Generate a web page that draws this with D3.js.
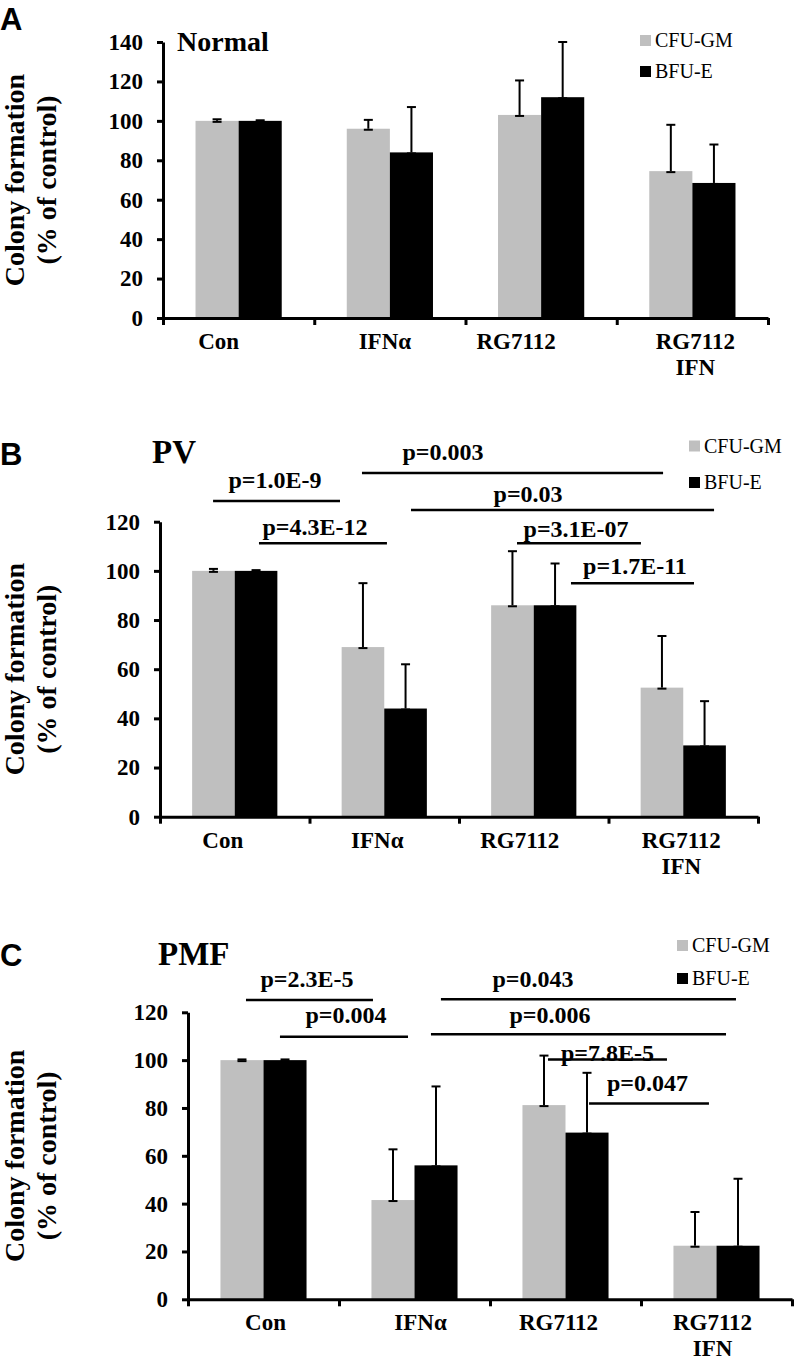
<!DOCTYPE html>
<html>
<head>
<meta charset="utf-8">
<script src="https://cdn.jsdelivr.net/npm/d3@7"></script>
<style>
body { margin: 0; background: #fff; }
</style>
</head>
<body>
<script>
var SERIF = "'Liberation Serif', 'Times New Roman', 'DejaVu Serif', serif";

// categories, series
var categories = [["Con"], ["IFN\u03b1"], ["RG7112"], ["RG7112", "IFN"]];
var series = ["CFU-GM", "BFU-E"];
var seriesColors = ["#bfbfbf", "#000000"];

// Normal (A)
var normalCfu = [100, 96, 103, 74.5];
var normalCfuErr = [0.8, 4.5, 17.5, 23.5];
var normalBfu = [100, 84, 112, 68.5];
var normalBfuErr = [0.3, 23, 28, 19.5];

// PV (B)
var pvCfu = [100, 69, 86, 52.5];
var pvCfuErr = [0.8, 26, 22, 21];
var pvBfu = [100, 44, 86, 29];
var pvBfuErr = [0.3, 18, 17, 18];

// PMF (C)
var pmfCfu = [100, 41.5, 81.2, 22.4];
var pmfCfuErr = [0.3, 21.2, 20.7, 14.1];
var pmfBfu = [100, 56, 69.7, 22.4];
var pmfBfuErr = [0.3, 33, 25, 28];

// significance bars: label, from, to (category units), level, label x, label baseline (value units)
var pvSig = [
    ["p=1.0E-9", 0.355, 1.204, 128.4, 0.769, 133.7],
    ["p=4.3E-12", 0.662, 1.518, 111.2, 1.037, 114.6],
    ["p=0.003", 1.351, 3.365, 139.8, 1.893, 145.1],
    ["p=0.03", 1.679, 3.706, 124.8, 2.462, 128.0],
    ["p=3.1E-07", 2.388, 3.217, 111.2, 2.783, 113.8],
    ["p=1.7E-11", 2.749, 3.572, 95.0, 3.177, 98.7]
];
var pmfSig = [
    ["p=2.3E-5", 0.384, 1.225, 125.1, 0.788, 130.7],
    ["p=0.004", 0.609, 1.457, 109.8, 1.046, 115.6],
    ["p=0.043", 1.675, 3.629, 125.5, 2.285, 130.7],
    ["p=0.006", 1.609, 3.563, 110.8, 2.397, 115.6],
    ["p=7.8E-5", 2.384, 3.172, 100.3, 2.778, 99.8],
    ["p=0.047", 2.656, 3.450, 81.9, 3.043, 87.2]
];

var yTitle = ["Colony formation", "(% of control)"];

var panels = [
    { letter: "A", title: "Normal", yMax: 140, values: [normalCfu, normalBfu], errs: [normalCfuErr, normalBfuErr], sig: [],
      left: 163, right: 768, top: 42, bottom: 318, letterY: 30, titleX: 177, titleY: 51, titleSize: 28,
      legendX: 640, legendY: [40.5, 71.5], labelDx: [-20, -5, -25, 3] },
    { letter: "B", title: "PV", yMax: 120, values: [pvCfu, pvBfu], errs: [pvCfuErr, pvBfuErr], sig: pvSig,
      left: 160, right: 758, top: 521.7, bottom: 816.7, letterY: 465, titleX: 152, titleY: 463, titleSize: 33,
      legendX: 689, legendY: [446, 482.5], labelDx: [-12, -7, -14, -2] },
    { letter: "C", title: "PMF", yMax: 120, values: [pmfCfu, pmfBfu], errs: [pmfCfuErr, pmfBfuErr], sig: pmfSig,
      left: 188, right: 792, top: 1012.3, bottom: 1299.3, letterY: 966, titleX: 158, titleY: 965, titleSize: 33,
      legendX: 677, legendY: [945.5, 978.5], labelDx: [2, 6, -7, -4] }
];

var svg = d3.select("body").append("svg")
    .attr("width", 794)
    .attr("height", 1361);

var addText = function (sel, size, bold) {
    return sel.append("text")
        .style("font-family", SERIF)
        .style("font-size", size + "px")
        .style("font-weight", bold ? "bold" : "normal")
        .attr("fill", "#000");
};

panels.forEach(function (p) {
    var g = svg.append("g");

    var x = d3.scaleBand().domain(d3.range(categories.length)).range([p.left, p.right]);
    var xu = d3.scaleLinear().domain([0, categories.length]).range([p.left, p.right]);
    var xs = d3.scaleBand().domain(d3.range(series.length))
        .range([x.bandwidth() * 0.215, x.bandwidth() * 0.785]);
    var y = d3.scaleLinear().domain([0, p.yMax]).range([p.bottom, p.top]);

    // bars
    series.forEach(function (s, si) {
        g.append("g").selectAll("rect")
            .data(p.values[si])
            .enter().append("rect")
            .attr("x", function (d, i) { return x(i) + xs(si); })
            .attr("y", function (d) { return y(d); })
            .attr("width", xs.bandwidth())
            .attr("height", function (d) { return y(0) - y(d); })
            .attr("fill", seriesColors[si]);
    });

    // error bars (plus only)
    series.forEach(function (s, si) {
        var eb = g.append("g").attr("stroke", "#000").attr("stroke-width", 2);
        p.values[si].forEach(function (v, i) {
            var cx = x(i) + xs(si) + xs.bandwidth() / 2;
            var e = p.errs[si][i];
            eb.append("line").attr("x1", cx).attr("x2", cx).attr("y1", y(v)).attr("y2", y(v + e));
            eb.append("line").attr("x1", cx - 4.5).attr("x2", cx + 4.5).attr("y1", y(v + e)).attr("y2", y(v + e));
            eb.append("line").attr("x1", cx - 4.5).attr("x2", cx + 4.5).attr("y1", y(v) + 1).attr("y2", y(v) + 1);
        });
    });

    // y axis
    var ya = g.append("g")
        .attr("transform", "translate(" + p.left + ",0)")
        .call(d3.axisLeft(y).tickValues(d3.range(0, p.yMax + 1, 20)).tickSize(6).tickSizeOuter(0).tickPadding(14));
    ya.select(".domain").attr("stroke-width", 3);
    ya.selectAll(".tick line").attr("stroke-width", 3);
    ya.selectAll(".tick text")
        .style("font-family", SERIF)
        .style("font-weight", "bold")
        .style("font-size", "23px")
        .attr("fill", "#000");

    // x axis
    var xa = g.append("g")
        .attr("transform", "translate(0," + p.bottom + ")")
        .call(d3.axisBottom(xu).tickValues(d3.range(categories.length + 1)).tickFormat("").tickSize(7).tickSizeOuter(0));
    xa.select(".domain").attr("stroke-width", 3);
    xa.selectAll(".tick line").attr("stroke-width", 3);

    // category labels
    categories.forEach(function (lines, i) {
        var cx = x(i) + x.bandwidth() / 2 + p.labelDx[i];
        var t = addText(g, 23, true)
            .attr("x", cx)
            .attr("y", p.bottom + 31)
            .attr("text-anchor", "middle");
        lines.forEach(function (l, li) {
            t.append("tspan")
                .attr("x", cx)
                .attr("dy", li === 0 ? 0 : 26)
                .text(l);
        });
    });

    // y title
    var cy = (p.top + p.bottom) / 2;
    yTitle.forEach(function (l, li) {
        addText(g, 28, true)
            .attr("transform", "translate(" + (li === 0 ? 24 : 56) + "," + cy + ") rotate(-90)")
            .attr("text-anchor", "middle")
            .text(l);
    });

    // panel letter and title
    g.append("text")
        .attr("x", 0).attr("y", p.letterY)
        .style("font-family", "'Liberation Sans', Arial, sans-serif")
        .style("font-weight", "bold")
        .style("font-size", "31px")
        .text(p.letter);
    addText(g, p.titleSize, true)
        .attr("x", p.titleX).attr("y", p.titleY)
        .text(p.title);

    // legend
    series.forEach(function (s, si) {
        g.append("rect")
            .attr("x", p.legendX).attr("y", p.legendY[si] - 5.5)
            .attr("width", 11).attr("height", 11)
            .attr("fill", seriesColors[si]);
        addText(g, 20, false)
            .attr("x", p.legendX + 15).attr("y", p.legendY[si] + 6.5)
            .text(s);
    });

    // significance bars
    p.sig.forEach(function (d) {
        addText(g, 24, true)
            .attr("x", xu(d[4])).attr("y", y(d[5]))
            .attr("text-anchor", "middle")
            .text(d[0]);
        g.append("line")
            .attr("x1", xu(d[1])).attr("x2", xu(d[2]))
            .attr("y1", y(d[3])).attr("y2", y(d[3]))
            .attr("stroke", "#000").attr("stroke-width", 2.5);
    });
});
</script>
</body>
</html>
